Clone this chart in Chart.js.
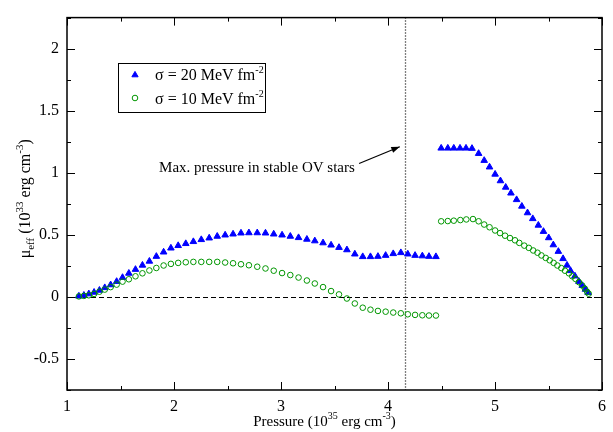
<!DOCTYPE html>
<html>
<head>
<meta charset="utf-8">
<script src="https://cdn.jsdelivr.net/npm/chart.js@4/dist/chart.umd.min.js"></script>
<style>
html,body{margin:0;padding:0;background:#fff;}
canvas{display:block;}
</style>
</head>
<body>
<canvas id="c" width="613" height="432"></canvas>
<script>
// ---- data (pressure in 1e35 erg cm^-3, mu_eff in 1e33 erg cm^-3) ----
const pressureLow = [1.111,1.158,1.204,1.253,1.303,1.353,1.408,1.464,1.519,1.578,1.640,1.705,1.770,1.835,1.903,1.971,2.039,2.110,2.181,2.255,2.329,2.404,2.478,2.552,2.626,2.700,2.778,2.855,2.932,3.010,3.087,3.164,3.242,3.316,3.393,3.468,3.542,3.616,3.690,3.764,3.836,3.906,3.978,4.049,4.120,4.185,4.253,4.321,4.383,4.448];
const muSigma20Low = [0.006,0.013,0.024,0.037,0.053,0.074,0.097,0.124,0.156,0.190,0.221,0.255,0.287,0.326,0.361,0.393,0.413,0.429,0.445,0.461,0.474,0.488,0.498,0.506,0.514,0.516,0.516,0.514,0.506,0.498,0.488,0.477,0.464,0.451,0.435,0.417,0.398,0.379,0.345,0.324,0.324,0.326,0.334,0.348,0.356,0.345,0.334,0.330,0.326,0.324];
const muSigma10Low = [0.004,0.008,0.013,0.024,0.042,0.059,0.079,0.099,0.123,0.142,0.166,0.190,0.213,0.233,0.253,0.266,0.274,0.279,0.282,0.282,0.282,0.282,0.277,0.271,0.263,0.255,0.243,0.229,0.211,0.192,0.176,0.156,0.132,0.108,0.079,0.047,0.020,-0.013,-0.053,-0.087,-0.103,-0.113,-0.119,-0.126,-0.132,-0.140,-0.145,-0.148,-0.150,-0.150];
const pressureHigh20 = [4.497,4.559,4.615,4.673,4.729,4.785,4.847,4.899,4.949,5.001,5.051,5.100,5.149,5.202,5.251,5.304,5.353,5.405,5.453,5.502,5.545,5.592,5.636,5.673,5.706,5.747,5.784,5.815,5.845,5.870];
const muSigma20High = [1.198,1.198,1.198,1.198,1.198,1.196,1.155,1.099,1.046,0.988,0.935,0.883,0.836,0.783,0.730,0.677,0.630,0.577,0.527,0.476,0.419,0.366,0.308,0.255,0.211,0.168,0.124,0.092,0.061,0.034];
const pressureHigh10 = [4.497,4.559,4.615,4.676,4.732,4.794,4.847,4.899,4.949,5.001,5.047,5.094,5.140,5.187,5.227,5.274,5.316,5.357,5.397,5.434,5.474,5.511,5.548,5.583,5.620,5.654,5.691,5.722,5.752,5.784,5.815,5.840,5.862,5.876];
const muSigma10High = [0.609,0.611,0.614,0.619,0.624,0.627,0.609,0.583,0.561,0.535,0.514,0.493,0.474,0.456,0.435,0.413,0.395,0.374,0.356,0.334,0.314,0.295,0.274,0.253,0.232,0.211,0.190,0.166,0.145,0.119,0.092,0.066,0.040,0.026];
const maxStablePressure = 4.16;
const xTickLabels = ['1','2','3','4','5','6'];
const yTickLabels = ['-0.5','0','0.5','1','1.5','2'];
const seriesLabels = ['\u03C3 = 20 MeV fm', '\u03C3 = 10 MeV fm'];
const annotationText = 'Max. pressure in stable OV stars';

const BLUE = 'rgb(0,0,255)';
const GREEN = 'rgb(0,150,0)';
const SERIF = '"Liberation Serif", "DejaVu Serif", serif';

function pts(xs, ys){ return xs.map((x,i)=>({x:x, y:ys[i]})); }
function fmt(v){ return String(Math.round(v*100)/100); }

function richWidth(ctx, parts){
  let w=0; for(const p of parts){ ctx.font = p.size+'px '+SERIF; w += ctx.measureText(p.t).width; } return w;
}
function richDraw(ctx, parts, x, y){
  let cx=x;
  for(const p of parts){ ctx.font = p.size+'px '+SERIF; ctx.fillText(p.t, cx, y+(p.dy||0)); cx += ctx.measureText(p.t).width; }
}

const decor = {
  id:'decor',
  beforeDatasetsDraw(chart){
    const {ctx, chartArea:a, scales:{x,y}} = chart;
    ctx.save();
    ctx.strokeStyle='#000'; ctx.lineWidth=1;
    ctx.setLineDash([5,3]);
    const y0 = Math.round(y.getPixelForValue(0))+0.5;
    ctx.beginPath(); ctx.moveTo(a.left, y0); ctx.lineTo(a.right, y0); ctx.stroke();
    ctx.setLineDash([1,2]);
    ctx.lineWidth=1.3;
    const xm = Math.round(x.getPixelForValue(maxStablePressure))+0.5;
    ctx.beginPath(); ctx.moveTo(xm, a.top); ctx.lineTo(xm, a.bottom); ctx.stroke();
    ctx.restore();
  },
  afterDraw(chart){
    const {ctx, chartArea:a, scales:{x,y}} = chart;
    ctx.save();
    ctx.strokeStyle='#000'; ctx.fillStyle='#000';
    ctx.lineWidth=1.5;
    ctx.strokeRect(a.left, a.top, a.right-a.left, a.bottom-a.top);
    ctx.lineWidth=1;
    ctx.beginPath();
    for(const t of x.ticks){
      const px = Math.round(x.getPixelForValue(t.value))+0.5;
      const major = Math.abs(t.value-Math.round(t.value))<1e-6;
      const L = major?8:4;
      ctx.moveTo(px, a.bottom); ctx.lineTo(px, a.bottom-L);
      ctx.moveTo(px, a.top); ctx.lineTo(px, a.top+L);
    }
    for(const t of y.ticks){
      const py = Math.round(y.getPixelForValue(t.value))+0.5;
      const major = Math.abs(t.value*2-Math.round(t.value*2))<1e-6;
      const L = major?8:4;
      ctx.moveTo(a.left, py); ctx.lineTo(a.left+L, py);
      ctx.moveTo(a.right, py); ctx.lineTo(a.right-L, py);
    }
    ctx.stroke();

    // axis titles
    ctx.textBaseline='alphabetic';
    const xt = [{t:'Pressure (10',size:15},{t:'35',size:10,dy:-7},{t:' erg cm',size:15},{t:'-3',size:10,dy:-7},{t:')',size:15}];
    const xw = richWidth(ctx, xt);
    richDraw(ctx, xt, (a.left+a.right)/2 - 10 - xw/2, 426);
    const yt = [{t:'\u03BC',size:16},{t:'eff',size:11,dy:4},{t:' (10',size:16},{t:'33',size:11,dy:-7},{t:' erg cm',size:16},{t:'-3',size:11,dy:-7},{t:')',size:16}];
    const yw = richWidth(ctx, yt);
    ctx.save();
    ctx.translate(30, (a.top+a.bottom)/2 - 5);
    ctx.rotate(-Math.PI/2);
    richDraw(ctx, yt, -yw/2, 0);
    ctx.restore();

    // legend
    ctx.lineWidth=1;
    ctx.strokeStyle='#000';
    ctx.strokeRect(118.5, 63.5, 147, 49);
    const H = Chart.helpers;
    ctx.fillStyle=BLUE; ctx.strokeStyle=BLUE; ctx.lineWidth=1;
    H.drawPoint(ctx, {pointStyle:'triangle', radius:3.6, borderWidth:1, rotation:0}, 135, 75);
    ctx.fillStyle='rgba(0,0,0,0)'; ctx.strokeStyle=GREEN;
    H.drawPoint(ctx, {pointStyle:'circle', radius:2.8, borderWidth:1, rotation:0}, 135, 98);
    ctx.fillStyle='#000';
    richDraw(ctx, [{t:seriesLabels[0],size:16},{t:'-2',size:10,dy:-7}], 155, 80);
    richDraw(ctx, [{t:seriesLabels[1],size:16},{t:'-2',size:10,dy:-7}], 155, 104);

    // annotation
    ctx.font = '15px '+SERIF;
    ctx.textAlign='right'; ctx.textBaseline='middle';
    ctx.fillText(annotationText, x.getPixelForValue(3.69), y.getPixelForValue(1.035));
    const x1 = x.getPixelForValue(3.73), y1 = y.getPixelForValue(1.075);
    const x2 = x.getPixelForValue(4.11), y2 = y.getPixelForValue(1.21);
    ctx.strokeStyle='#000'; ctx.lineWidth=1.2;
    ctx.beginPath(); ctx.moveTo(x1,y1); ctx.lineTo(x2,y2); ctx.stroke();
    const ang = Math.atan2(y2-y1, x2-x1);
    ctx.beginPath();
    ctx.moveTo(x2,y2);
    ctx.lineTo(x2-9*Math.cos(ang-0.35), y2-9*Math.sin(ang-0.35));
    ctx.lineTo(x2-9*Math.cos(ang+0.35), y2-9*Math.sin(ang+0.35));
    ctx.closePath(); ctx.fillStyle='#000'; ctx.fill();
    ctx.restore();
  }
};

new Chart(document.getElementById('c'), {
  type:'scatter',
  data:{
    datasets:[
      {label:seriesLabels[1], data: pts(pressureLow, muSigma10Low).concat(pts(pressureHigh10, muSigma10High)),
       pointStyle:'circle', pointRadius:2.8, borderWidth:1, borderColor:GREEN, backgroundColor:'rgba(0,0,0,0)', order:0},
      {label:seriesLabels[0], data: pts(pressureLow, muSigma20Low).concat(pts(pressureHigh20, muSigma20High)),
       pointStyle:'triangle', pointRadius:3.8, borderWidth:1, borderColor:BLUE, backgroundColor:BLUE, order:1}
    ]
  },
  options:{
    responsive:false, animation:false, devicePixelRatio:1,
    layout:{padding:{left:0,right:7,top:10,bottom:0}},
    plugins:{legend:{display:false}, tooltip:{enabled:false}},
    scales:{
      x:{type:'linear', min:1, max:6,
         grid:{display:false, drawTicks:false}, border:{display:false},
         ticks:{stepSize:0.5, autoSkip:false, maxRotation:0, padding:7, color:'#000',
           font:{family:SERIF, size:16},
           callback:(v)=>{ const s=fmt(v); return xTickLabels.includes(s)?s:''; }},
         afterFit:(s)=>{ s.height=42; }},
      y:{type:'linear', min:-0.75, max:2.25,
         grid:{display:false, drawTicks:false}, border:{display:false},
         ticks:{stepSize:0.25, autoSkip:false, padding:8, color:'#000',
           font:{family:SERIF, size:16},
           callback:(v)=>{ const s=fmt(v); return yTickLabels.includes(s)?s:''; }},
         afterFit:(s)=>{ s.width=67; }}
    }
  },
  plugins:[decor]
});
</script>
</body>
</html>
